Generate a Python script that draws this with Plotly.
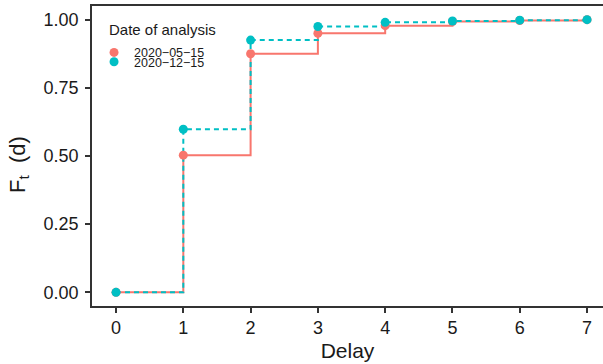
import plotly.graph_objects as go

delay = [0, 1, 2, 3, 4, 5, 6, 7]
f_may = [0.0, 0.503, 0.875, 0.950, 0.978, 0.993, 0.997, 1.0]
f_dec = [0.0, 0.598, 0.925, 0.975, 0.990, 0.995, 0.998, 1.0]
labels = ["2020\u221205\u221215", "2020\u221212\u221215"]
colors = ["#F8766D", "#00BFC4"]
y_ticks = [0, 0.25, 0.5, 0.75, 1.0]
x_ticks = delay

FONT = "Liberation Sans, Arial, sans-serif"

fig = go.Figure()
fig.add_trace(go.Scatter(x=delay, y=f_may, mode="lines", line=dict(color=colors[0], width=2, shape="hv"),
                         showlegend=False, hoverinfo="skip"))
fig.add_trace(go.Scatter(x=delay, y=f_dec, mode="lines", line=dict(color=colors[1], width=2, shape="hv", dash="5px,4px"),
                         showlegend=False, hoverinfo="skip"))
fig.add_trace(go.Scatter(x=delay, y=f_may, mode="markers", name=labels[0],
                         marker=dict(color=colors[0], size=9), legend="legend"))
fig.add_trace(go.Scatter(x=delay, y=f_dec, mode="markers", name=labels[1],
                         marker=dict(color=colors[1], size=9), legend="legend2"))

axis_common = dict(showline=True, linecolor="#333333", linewidth=1.6, ticks="outside", ticklen=5,
                   tickwidth=1.5, tickcolor="#333333", showgrid=False, zeroline=False,
                   tickfont=dict(family=FONT, size=18, color="#1a1a1a"))

fig.update_layout(
    width=603, height=364,
    margin=dict(l=92, r=0, t=6, b=58, autoexpand=False),
    plot_bgcolor="white", paper_bgcolor="white",
    font=dict(family=FONT, color="#1a1a1a"),
    xaxis=dict(range=[-0.357, 7.237], tickvals=x_ticks, mirror=True, automargin=False,
               title=dict(text="Delay", font=dict(family=FONT, size=21), standoff=6), **axis_common),
    yaxis=dict(range=[-0.05, 1.05], tickvals=y_ticks, tickformat=".2f", mirror=False, automargin=False,
               ticklabelstandoff=3, **axis_common),
    legend=dict(x=0.004, y=0.894, xanchor="left", yanchor="top", bgcolor="rgba(0,0,0,0)",
                font=dict(family=FONT, size=12.5), itemwidth=30),
    legend2=dict(x=0.004, y=0.863, xanchor="left", yanchor="top", bgcolor="rgba(0,0,0,0)",
                 font=dict(family=FONT, size=12.5), itemwidth=30),
    annotations=[
        dict(text="Date of analysis", xref="paper", yref="paper", x=0.0294, y=0.92,
             xanchor="left", yanchor="middle", showarrow=False,
             font=dict(family=FONT, size=15, color="#1a1a1a")),
        dict(text="F<sub>t</sub>&nbsp; (d)", xref="paper", yref="paper", x=-0.143, y=0.473,
             xanchor="center", yanchor="middle", textangle=-90, showarrow=False,
             font=dict(family=FONT, size=22, color="#1a1a1a")),
    ],
)

fig.write_html("out.html", config={"displayModeBar": False},
               post_script="document.body.style.margin='0';document.body.style.overflow='hidden';")
